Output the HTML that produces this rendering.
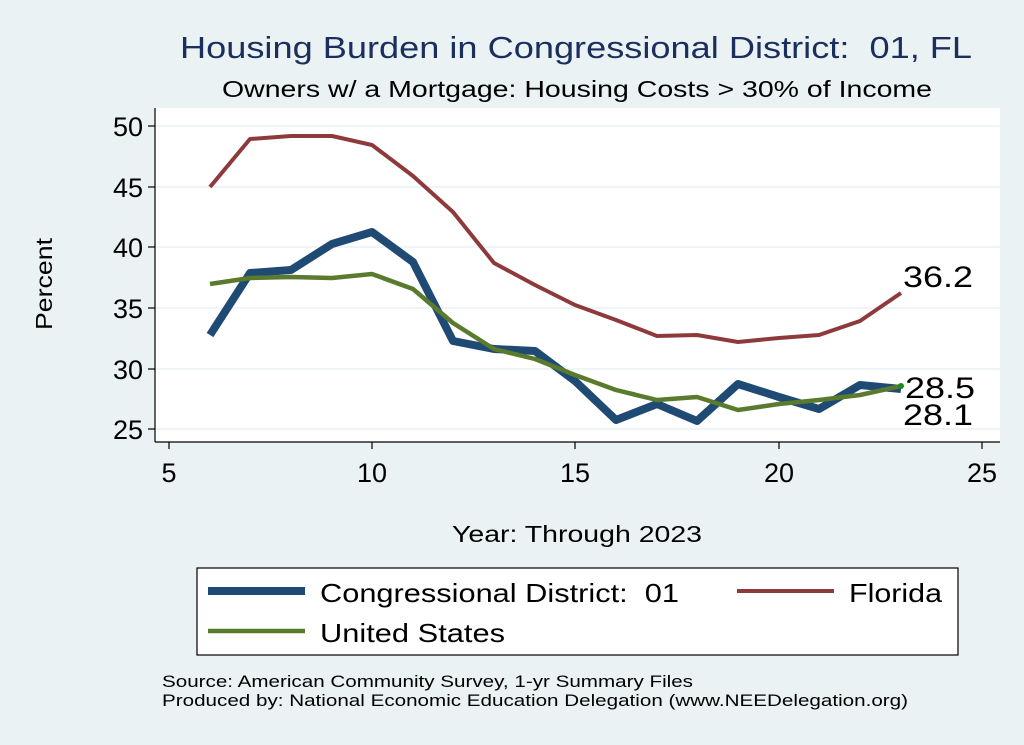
<!DOCTYPE html>
<html><head><meta charset="utf-8"><style>
html,body{margin:0;padding:0;background:#eaf2f3;}
svg{display:block;font-family:"Liberation Sans",Arial,sans-serif;}
</style></head><body>
<svg width="1024" height="745" viewBox="0 0 1024 745" xmlns="http://www.w3.org/2000/svg">
<rect width="1024" height="745" fill="#eaf2f3"/>
<text x="180" y="58" font-size="31" fill="#1a2f5e" textLength="792" lengthAdjust="spacingAndGlyphs">Housing Burden in Congressional District:&#160; 01, FL</text>
<text x="222" y="97" font-size="23" fill="#000" textLength="710" lengthAdjust="spacingAndGlyphs">Owners w/ a Mortgage: Housing Costs &gt; 30% of Income</text>
<rect x="155" y="108" width="845" height="334" fill="#fff"/>
<g stroke="#eaf2f3" stroke-width="1.5">
<line x1="155" x2="1000" y1="126" y2="126"/><line x1="155" x2="1000" y1="187" y2="187"/>
<line x1="155" x2="1000" y1="247" y2="247"/><line x1="155" x2="1000" y1="308" y2="308"/>
<line x1="155" x2="1000" y1="369" y2="369"/><line x1="155" x2="1000" y1="429" y2="429"/>
</g>
<g stroke="#000" stroke-width="1.2">
<line x1="155" x2="155" y1="108" y2="442"/><line x1="155" x2="1000" y1="442" y2="442"/>
<line x1="148" x2="155" y1="126" y2="126"/><line x1="148" x2="155" y1="187" y2="187"/>
<line x1="148" x2="155" y1="247" y2="247"/><line x1="148" x2="155" y1="308" y2="308"/>
<line x1="148" x2="155" y1="369" y2="369"/><line x1="148" x2="155" y1="429" y2="429"/>
<line x1="169" x2="169" y1="442" y2="449"/><line x1="372" x2="372" y1="442" y2="449"/>
<line x1="575" x2="575" y1="442" y2="449"/><line x1="779" x2="779" y1="442" y2="449"/>
<line x1="982" x2="982" y1="442" y2="449"/>
</g>
<g font-size="27" text-anchor="end">
<text x="143" y="136">50</text><text x="143" y="197">45</text><text x="143" y="257">40</text>
<text x="143" y="318">35</text><text x="143" y="379">30</text><text x="143" y="439">25</text>
</g>
<g font-size="27" text-anchor="middle">
<text x="169" y="482">5</text><text x="372" y="482">10</text><text x="575" y="482">15</text>
<text x="779" y="482">20</text><text x="982" y="482">25</text>
</g>
<text x="452" y="542" font-size="23" textLength="250" lengthAdjust="spacingAndGlyphs">Year: Through 2023</text>
<text transform="translate(52,330) rotate(-90)" font-size="23" textLength="92" lengthAdjust="spacingAndGlyphs">Percent</text>
<g fill="none" stroke-linejoin="round">
<polyline stroke="#1f4a74" stroke-width="8" points="210,335 250,273 291,270 332,244 372,232 413,262 453,341 494,349 535,351 575,381 616,420 657,404 697,421 738,384 779,397 819,409 860,385 901,389"/>
<polyline stroke="#8e3a3c" stroke-width="4" points="210,187 250,139 291,136 332,136 372,145 413,176 453,212 494,263 535,285 575,305 616,320 657,336 697,335 738,342 779,338 819,335 860,321 901,293"/>
<polyline stroke="#5a7a2e" stroke-width="4.5" points="210,284 250,278 291,277 332,278 372,274 413,289 453,323 494,349 535,359 575,375 616,390 657,400 697,397 738,410 779,404 819,400 860,395 901,386"/>
</g>
<circle cx="901" cy="386" r="3" fill="#1a8a1a"/>
<g font-size="30">
<text x="903" y="287" textLength="70" lengthAdjust="spacingAndGlyphs">36.2</text>
<text x="905" y="398" textLength="70" lengthAdjust="spacingAndGlyphs">28.5</text>
<text x="903" y="425" textLength="70" lengthAdjust="spacingAndGlyphs">28.1</text>
</g>
<rect x="197" y="568" width="761" height="87" fill="#fff" stroke="#000" stroke-width="1.2"/>
<line x1="208" x2="305" y1="591" y2="591" stroke="#1f4a74" stroke-width="8"/>
<text x="320" y="602" font-size="26" textLength="359" lengthAdjust="spacingAndGlyphs">Congressional District:&#160; 01</text>
<line x1="737" x2="834" y1="591" y2="591" stroke="#8e3a3c" stroke-width="4"/>
<text x="849" y="602" font-size="26" textLength="93" lengthAdjust="spacingAndGlyphs">Florida</text>
<line x1="208" x2="305" y1="631" y2="631" stroke="#5a7a2e" stroke-width="4.5"/>
<text x="320" y="642" font-size="26" textLength="185" lengthAdjust="spacingAndGlyphs">United States</text>
<text x="162" y="687" font-size="17" textLength="531" lengthAdjust="spacingAndGlyphs">Source: American Community Survey, 1-yr Summary Files</text>
<text x="162" y="706" font-size="17" textLength="746" lengthAdjust="spacingAndGlyphs">Produced by: National Economic Education Delegation (www.NEEDelegation.org)</text>
</svg>
</body></html>
